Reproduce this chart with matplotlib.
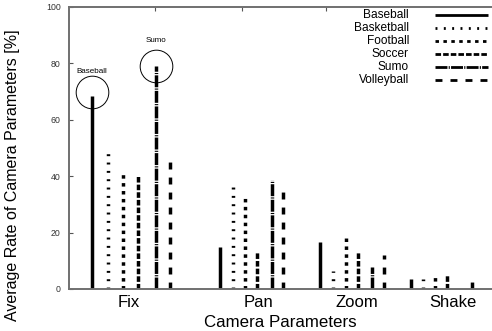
import matplotlib
matplotlib.use("Agg")
import matplotlib.pyplot as plt
import numpy as np

plt.rcParams['font.family'] = ['Liberation Sans', 'DejaVu Sans']
plt.rcParams['lines.scale_dashes'] = False

# data
groups = ['Fix', 'Pan', 'Zoom', 'Shake']
series = ['Baseball', 'Basketball', 'Football', 'Soccer', 'Sumo', 'Volleyball']
baseball = [68.5, 15.0, 16.6, 3.5]
basketball = [49.0, 37.5, 6.5, 3.5]
football = [41.5, 32.5, 19.4, 4.3]
soccer = [40.5, 13.5, 13.0, 5.0]
sumo = [79.0, 38.5, 7.7, 0.0]
volleyball = [48.0, 35.0, 12.0, 2.8]
values = [baseball, basketball, football, soccer, sumo, volleyball]

# layout (x unit = 100 px of the original)
group_start = np.array([0.23, 1.51, 2.51, 3.42])
group_width = np.array([0.78, 0.63, 0.64, 0.61])
slot = np.array([0.0, 0.20, 0.40, 0.59, 0.82, 1.0])
label_x = [0.595, 1.895, 2.875, 3.835]
top_ticks = [0.86, 1.73, 2.57]

styles = [
    '-',
    (0, (1.4, 4.6)),
    (0, (2.5, 3.2)),
    (0, (4.0, 1.5)),
    (0, (8.6, 0.9, 0.8, 0.9)),
    (0, (5.0, 5.8)),
]

fig = plt.figure(figsize=(4.92, 3.31), dpi=100)
ax = fig.add_axes([69 / 492, 42 / 331, 423 / 492, 282 / 331])

for i, name in enumerate(series):
    xs = group_start + slot[i] * group_width
    for x, v in zip(xs, values[i]):
        if v > 0:
            ax.plot([x, x], [0, v], color='black', lw=2.5, linestyle=styles[i],
                    solid_capstyle='butt', dash_capstyle='butt')

# circled highlights on the Fix group
fx = group_start[0] + slot * group_width[0]
ax.plot(fx[0], baseball[0] + 1.2, 'o', ms=23.5, mfc='none', mec='black', mew=0.7)
ax.plot(fx[4], sumo[0] + 0.1, 'o', ms=23.5, mfc='none', mec='black', mew=0.7)
ax.text(fx[0], baseball[0] + 8.8, 'Baseball', fontsize=5.8, ha='center', va='center')
ax.text(fx[4], sumo[0] + 9.0, 'Sumo', fontsize=5.8, ha='center', va='center')

# legend drawn by hand to get right-aligned labels
row_y = [15, 28, 41, 54, 67, 80]
for i, name in enumerate(series):
    yf = (289 - row_y[i]) / 282
    ax.text((409 - 69) / 423, yf, name, transform=ax.transAxes, fontsize=8.6,
            ha='right', va='center')
    ax.plot([(435 - 69) / 423, (488 - 69) / 423], [yf, yf], transform=ax.transAxes,
            color='black', lw=2.0, linestyle=styles[i], solid_capstyle='butt',
            dash_capstyle='butt', clip_on=False)

ax.set_xlim(0, 4.23)
ax.set_ylim(0, 100)
ax.set_yticks([0, 20, 40, 60, 80, 100])
ax.tick_params(axis='y', direction='in', length=3, width=0.8, labelsize=6.3,
               labelcolor='#333333', color='#555555', pad=6)
ax.set_xticks(label_x)
ax.set_xticklabels(groups, fontsize=12)
ax.tick_params(axis='x', length=0, pad=4)

top = ax.secondary_xaxis('top')
top.set_xticks(top_ticks)
top.set_xticklabels([])
top.tick_params(direction='in', length=3, width=0.8, color='#555555')
top.spines['top'].set_visible(False)

for side in ['left', 'bottom', 'top']:
    ax.spines[side].set_color('#707070')
    ax.spines[side].set_linewidth(1.4)
ax.spines['right'].set_visible(False)

ax.set_xlabel('Camera Parameters', fontsize=12.2)
ax.xaxis.set_label_coords(0.5, -0.092)
ax.set_ylabel('Average Rate of Camera Parameters [%]', fontsize=11.5)
ax.yaxis.set_label_coords(-0.116, 0.405)

fig.savefig('out.png', dpi=100)
